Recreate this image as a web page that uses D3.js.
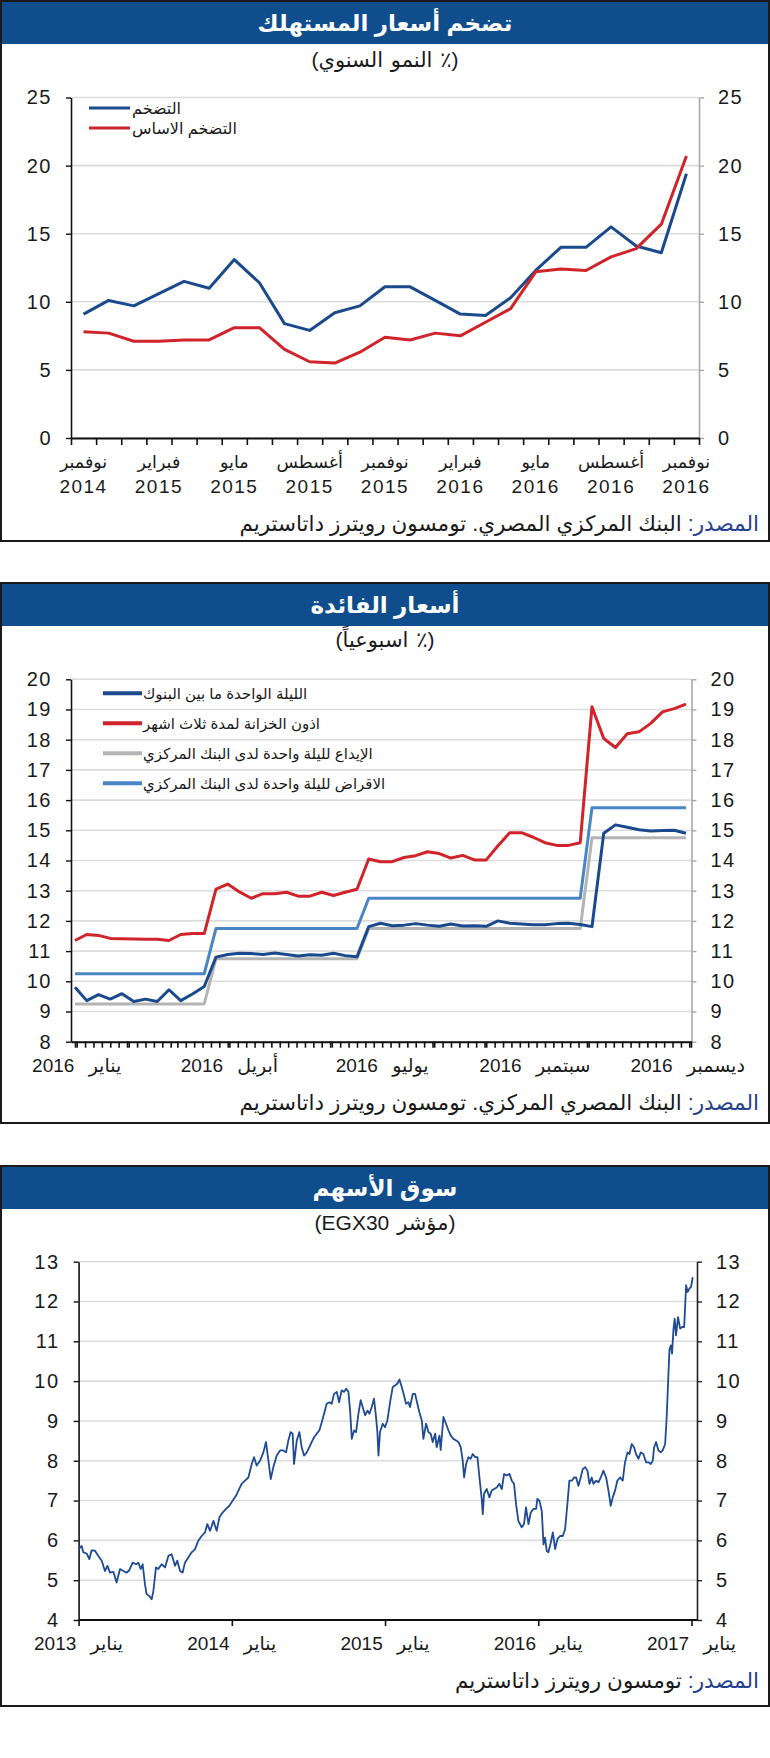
<!DOCTYPE html>
<html>
<head>
<meta charset="utf-8">
<script src="https://cdn.jsdelivr.net/npm/d3@7"></script>
<style>
  body { margin: 0; background: #fff; }
  svg text { font-family: "Liberation Sans", "DejaVu Sans", Arial, sans-serif; fill: #1a1a1a; }
</style>
</head>
<body>
<svg id="chart" width="770" height="1758"></svg>
<script>
// ---- chart 1: consumer inflation (monthly, % y/y)
const months1 = ["2014-11","2014-12","2015-01","2015-02","2015-03","2015-04","2015-05","2015-06",
  "2015-07","2015-08","2015-09","2015-10","2015-11","2015-12","2016-01","2016-02","2016-03",
  "2016-04","2016-05","2016-06","2016-07","2016-08","2016-09","2016-10","2016-11"];
const inflation = [9.1,10.1,9.7,10.6,11.5,11.0,13.1,11.4,8.4,7.9,9.2,9.7,11.1,11.1,10.1,9.1,9.0,10.3,12.3,14.0,14.0,15.5,14.1,13.6,19.4];
const coreInflation = [7.8,7.7,7.1,7.1,7.2,7.2,8.1,8.1,6.5,5.6,5.5,6.3,7.4,7.2,7.7,7.5,8.5,9.5,12.2,12.4,12.3,13.3,13.9,15.7,20.7];
const labelMonths1 = ["نوفمبر","فبراير","مايو","أغسطس","نوفمبر","فبراير","مايو","أغسطس","نوفمبر"];
const labelYears1 = ["2014","2015","2015","2015","2015","2016","2016","2016","2016"];
const yTicks1 = [0,5,10,15,20,25];

// ---- chart 2: interest rates (weekly, %)
const firstWeek = "2015-12-31";
const interbank = [9.80,9.36,9.56,9.41,9.59,9.33,9.41,9.33,9.72,9.36,9.58,9.83,
  10.80,10.89,10.93,10.92,10.89,10.94,10.89,10.84,10.88,10.86,10.93,10.85,10.81,
  11.81,11.92,11.84,11.86,11.91,11.86,11.82,11.90,11.83,11.84,11.82,12.00,11.92,11.90,11.87,11.87,11.91,11.92,11.88,11.81,
  14.90,15.18,15.10,15.02,14.98,14.99,15.00,14.90];
const tbill3m = [11.35,11.55,11.52,11.42,11.41,11.40,11.39,11.39,11.35,11.55,11.58,11.58,
  13.05,13.22,12.96,12.75,12.90,12.90,12.95,12.82,12.82,12.95,12.84,12.95,13.05,
  14.05,13.96,13.96,14.10,14.16,14.29,14.23,14.08,14.17,14.02,14.02,14.49,14.92,14.92,14.77,14.59,14.50,14.50,14.59,
  19.09,18.04,17.74,18.20,18.26,18.54,18.92,19.03,19.18];
const depositRate = [9.25,9.25,9.25,9.25,9.25,9.25,9.25,9.25,9.25,9.25,9.25,9.25,
  10.75,10.75,10.75,10.75,10.75,10.75,10.75,10.75,10.75,10.75,10.75,10.75,10.75,
  11.75,11.75,11.75,11.75,11.75,11.75,11.75,11.75,11.75,11.75,11.75,11.75,11.75,11.75,11.75,11.75,11.75,11.75,11.75,
  14.75,14.75,14.75,14.75,14.75,14.75,14.75,14.75,14.75];
const lendingRate = [10.25,10.25,10.25,10.25,10.25,10.25,10.25,10.25,10.25,10.25,10.25,10.25,
  11.75,11.75,11.75,11.75,11.75,11.75,11.75,11.75,11.75,11.75,11.75,11.75,11.75,
  12.75,12.75,12.75,12.75,12.75,12.75,12.75,12.75,12.75,12.75,12.75,12.75,12.75,12.75,12.75,12.75,12.75,12.75,12.75,
  15.75,15.75,15.75,15.75,15.75,15.75,15.75,15.75,15.75];
const rateLabelDates = ["2016-01-01","2016-04-01","2016-07-01","2016-09-30","2016-12-30"];
const rateLabels = ["يناير 2016","أبريل 2016","يوليو 2016","سبتمبر 2016","ديسمبر 2016"];
const rateNames = ["الليلة الواحدة ما بين البنوك","اذون الخزانة لمدة ثلاث اشهر",
  "الإيداع لليلة واحدة لدى البنك المركزي","الاقراض لليلة واحدة لدى البنك المركزي"];

// ---- chart 3: EGX30 index (thousands), time in decimal years
const egxTime = [2013.000,2013.020,2013.031,2013.053,2013.070,2013.085,2013.107,2013.129,2013.151,2013.172,
  2013.188,2013.205,2013.227,2013.248,2013.270,2013.292,2013.314,2013.331,2013.353,2013.375,
  2013.390,2013.405,2013.418,2013.433,2013.444,2013.462,2013.477,2013.488,2013.505,2013.520,
  2013.542,2013.564,2013.586,2013.607,2013.629,2013.644,2013.662,2013.679,2013.694,2013.716,
  2013.738,2013.760,2013.781,2013.803,2013.825,2013.840,2013.858,2013.880,2013.901,2013.919,
  2013.940,2013.962,2013.984,2014.006,2014.027,2014.043,2014.064,2014.086,2014.108,2014.130,
  2014.145,2014.162,2014.184,2014.206,2014.223,2014.239,2014.254,2014.271,2014.293,2014.315,
  2014.336,2014.354,2014.369,2014.384,2014.397,2014.406,2014.424,2014.441,
  2014.456,2014.471,2014.489,2014.506,2014.521,2014.537,2014.554,2014.571,2014.587,2014.602,
  2014.619,2014.637,2014.652,2014.667,2014.685,2014.700,2014.717,2014.733,2014.746,2014.761,
  2014.772,2014.783,2014.798,2014.811,2014.826,2014.841,2014.854,2014.870,2014.885,2014.898,
  2014.913,2014.928,2014.941,2014.950,2014.957,2014.967,2014.985,2015.000,2015.015,2015.033,
  2015.050,2015.065,2015.081,2015.094,2015.109,2015.124,2015.137,2015.152,2015.163,2015.181,
  2015.196,2015.211,2015.224,2015.240,2015.250,2015.268,2015.283,2015.298,2015.311,2015.327,
  2015.337,2015.355,2015.363,2015.381,2015.398,2015.414,2015.429,2015.446,2015.464,2015.479,
  2015.494,2015.507,2015.516,2015.529,2015.544,2015.559,2015.572,2015.588,2015.603,2015.616,
  2015.631,2015.638,2015.646,2015.664,2015.681,2015.696,2015.712,2015.729,2015.746,2015.762,
  2015.777,2015.794,2015.812,2015.827,2015.842,2015.855,2015.870,2015.881,
  2015.892,2015.907,2015.920,2015.936,2015.951,2015.968,2015.986,2015.994,2016.007,2016.023,
  2016.034,2016.044,2016.055,2016.066,2016.082,2016.095,2016.110,2016.125,2016.142,2016.160,
  2016.175,2016.190,2016.203,2016.219,2016.234,2016.247,2016.262,2016.277,2016.290,2016.306,
  2016.321,2016.334,2016.349,2016.360,2016.378,2016.393,2016.408,2016.425,2016.443,2016.458,
  2016.473,2016.486,2016.501,2016.516,2016.534,2016.551,2016.566,2016.582,2016.595,2016.610,
  2016.625,2016.638,2016.654,2016.669,2016.686,2016.704,2016.719,2016.734,2016.747,2016.756,
  2016.769,2016.784,2016.799,2016.812,2016.828,2016.838,2016.847,2016.856,2016.865,2016.873,
  2016.882,2016.890,2016.899,2016.912,2016.926,2016.939,2016.952,2016.965,2016.974,2016.987,
  2016.997,2017.008];
const egxIndex = [5.78,5.86,5.70,5.67,5.53,5.75,5.74,5.61,5.49,5.23,
  5.36,5.19,5.21,4.94,5.28,5.23,5.19,5.25,5.44,5.40,
  5.44,5.28,5.40,4.90,4.65,4.60,4.52,4.73,5.32,5.28,
  5.40,5.32,5.61,5.65,5.36,5.49,5.23,5.19,5.44,5.57,
  5.70,5.78,5.99,6.11,6.20,6.41,6.24,6.49,6.24,6.58,
  6.70,6.79,6.87,7.00,7.12,7.25,7.42,7.50,7.58,7.92,
  8.09,7.88,8.00,8.21,8.47,8.00,7.54,7.84,8.13,8.26,
  8.26,8.21,8.51,8.72,8.68,7.92,8.51,8.72,
  8.34,8.13,8.21,8.34,8.47,8.59,8.68,8.76,8.97,9.18,
  9.43,9.47,9.43,9.68,9.73,9.47,9.77,9.73,9.81,9.73,
  9.26,8.55,8.76,8.72,9.18,9.52,9.35,9.14,9.26,9.18,
  9.35,9.56,9.10,8.72,8.13,8.72,8.93,8.84,9.01,9.47,
  9.85,9.89,9.94,10.04,9.85,9.64,9.43,9.47,9.35,9.68,
  9.68,9.43,9.22,9.01,8.55,8.93,8.72,8.68,8.47,8.68,
  8.34,8.63,8.27,9.10,8.93,8.76,8.63,8.55,8.51,8.47,
  8.34,8.00,7.58,7.92,8.09,8.05,8.17,8.09,8.09,7.58,
  7.04,6.66,7.17,7.29,7.08,7.25,7.29,7.33,7.42,7.29,
  7.67,7.63,7.67,7.50,7.42,6.91,6.49,6.41,
  6.33,6.41,6.83,6.41,6.70,6.79,6.79,7.04,7.00,6.74,
  5.90,6.07,5.74,5.70,5.95,6.20,5.78,6.03,6.11,6.11,
  6.28,6.91,7.50,7.50,7.58,7.58,7.37,7.58,7.79,7.84,
  7.75,7.42,7.58,7.42,7.50,7.46,7.58,7.75,7.58,7.25,
  6.87,7.08,7.25,7.50,7.58,7.50,7.96,8.21,8.17,8.42,
  8.34,8.17,8.05,8.21,8.17,7.96,7.96,7.92,8.00,8.34,
  8.47,8.26,8.21,8.26,8.42,9.10,9.94,10.78,10.90,10.69,
  11.28,11.57,11.15,11.61,11.32,11.36,11.36,12.41,12.24,12.33,
  12.37,12.61];
const egxYears = [2013,2014,2015,2016,2017];
const yTicks3 = [4,5,6,7,8,9,10,11,12,13];

const navy = "#1b4a8c", red = "#d0232a", gray = "#b4b4b4", lightBlue = "#4a86c6",
      gridColor = "#dcdcdc", barColor = "#104d8c", srcBlue = "#23418f";

const svg = d3.select("#chart");

function panel(top, h, title, subtitle, subY) {
  const g = svg.append("g");
  g.append("rect").attr("x", 2).attr("y", top).attr("width", 766).attr("height", 43)
    .attr("fill", barColor);
  g.append("rect").attr("x", 1).attr("y", top).attr("width", 768).attr("height", h)
    .attr("fill", "none").attr("stroke", "#1a1a1a").attr("stroke-width", 2);
  g.append("text").attr("x", 385).attr("y", top + 22).attr("dy", "0.35em")
    .attr("text-anchor", "middle").attr("direction", "rtl")
    .attr("font-size", 23).attr("font-weight", "bold").style("fill", "#fff").text(title);
  g.append("text").attr("x", 385).attr("y", subY).attr("dy", "0.35em")
    .attr("text-anchor", "middle").attr("direction", "rtl")
    .attr("font-size", 21).attr("word-spacing", 2).text(subtitle);
  return g;
}

function source(g, y, rest) {
  const t = g.append("text").attr("x", 759).attr("y", y).attr("dy", "0.35em")
    .attr("direction", "rtl").attr("text-anchor", "start").attr("font-size", 21.5);
  t.append("tspan").style("fill", srcBlue).text("المصدر: ");
  t.append("tspan").text(rest);
}

function yAxes(g, y, ticks, x0, x1, rightColor) {
  g.append("g").selectAll("line").data(ticks).join("line")
    .attr("x1", x0).attr("x2", x1).attr("y1", d => y(d)).attr("y2", d => y(d))
    .attr("stroke", gridColor).attr("stroke-width", 1.6);
  const left = g.append("g").attr("transform", `translate(${x0},0)`)
    .call(d3.axisLeft(y).tickValues(ticks).tickSize(5).tickPadding(14).tickSizeOuter(0));
  const right = g.append("g").attr("transform", `translate(${x1},0)`)
    .call(d3.axisRight(y).tickValues(ticks).tickSize(5).tickPadding(14).tickSizeOuter(0));
  left.select(".domain").attr("stroke", "#111").attr("stroke-width", 1.6);
  left.selectAll(".tick line").attr("stroke", "#111").attr("stroke-width", 1.4);
  right.select(".domain").attr("stroke", rightColor).attr("stroke-width", 1.6);
  right.selectAll(".tick line").attr("stroke", rightColor).attr("stroke-width", 1.4);
  g.selectAll(".tick text").attr("font-size", 20).attr("letter-spacing", 1.5)
    .attr("font-family", null).style("fill", "#1a1a1a");
}

// ================= chart 1 =================
const g1 = panel(1, 540, "تضخم أسعار المستهلك", "(٪ النمو السنوي)", 60);
const x1 = d3.scaleLinear().domain([-0.5, months1.length - 0.5]).range([71, 699]);
const y1 = d3.scaleLinear().domain([0, 25]).range([438, 97.5]);
yAxes(g1, y1, yTicks1, 71, 699, "#a8a8a8");

const xb1 = g1.append("g").attr("transform", "translate(0,438)")
  .call(d3.axisBottom(x1).tickValues(d3.range(-0.5, months1.length, 1)).tickSize(7).tickFormat("").tickSizeOuter(0));
xb1.select(".domain").attr("stroke", "#111").attr("stroke-width", 2);
xb1.selectAll(".tick line").attr("stroke", "#111").attr("stroke-width", 1.6);

const lab1 = g1.append("g").selectAll("g").data(labelMonths1).join("g")
  .attr("transform", (d, i) => `translate(${x1(i * 3)},0)`);
lab1.append("text").attr("y", 462).attr("dy", "0.35em").attr("text-anchor", "middle")
  .attr("font-size", 17.5).text(d => d);
lab1.append("text").attr("y", 486).attr("dy", "0.35em").attr("text-anchor", "middle")
  .attr("font-size", 19).attr("letter-spacing", 1.5).text((d, i) => labelYears1[i]);

const line1 = d3.line().x((d, i) => x1(i)).y(d => y1(d));
[[inflation, navy], [coreInflation, red]].forEach(([s, c]) => {
  g1.append("path").datum(s).attr("d", line1).attr("fill", "none")
    .attr("stroke", c).attr("stroke-width", 3).attr("stroke-linejoin", "round");
});

const leg1 = [["التضخم", navy], ["التضخم الاساس", red]];
leg1.forEach(([name, c], i) => {
  g1.append("line").attr("x1", 89).attr("x2", 130).attr("y1", 108 + i * 20).attr("y2", 108 + i * 20)
    .attr("stroke", c).attr("stroke-width", 3);
  g1.append("text").attr("x", 132).attr("y", 108 + i * 20).attr("dy", "0.35em")
    .attr("font-size", 16).text(name);
});
source(g1, 523, "البنك المركزي المصري. تومسون رويترز داتاستريم");

// ================= chart 2 =================
const g2 = panel(583, 540, "أسعار الفائدة", "(٪ اسبوعياً)", 640);
const parse = d3.timeParse("%Y-%m-%d");
const weeks = interbank.map((d, i) => d3.timeDay.offset(parse(firstWeek), 7 * i));
const x2 = d3.scaleTime()
  .domain([new Date(2015, 11, 28, 15), new Date(2017, 0, 1, 7)]).range([71, 691.5]);
const y2 = d3.scaleLinear().domain([8, 20]).range([1041.7, 679.3]);
yAxes(g2, y2, d3.range(8, 21), 71, 691.5, "#a8a8a8");

// minor date ticks every five days along the bottom axis
const dayTicks = d3.timeDay.every(5).range(x2.domain()[0], x2.domain()[1]);
const xb2 = g2.append("g").attr("transform", "translate(0,1041.7)")
  .call(d3.axisBottom(x2).tickValues(dayTicks).tickSize(6).tickFormat("").tickSizeOuter(0));
xb2.select(".domain").attr("stroke", "#111").attr("stroke-width", 2);
xb2.selectAll(".tick line").attr("stroke", "#111").attr("stroke-width", 1.6);

g2.append("g").selectAll("text").data(rateLabels).join("text")
  .attr("x", (d, i) => x2(parse(rateLabelDates[i]))).attr("y", 1065).attr("dy", "0.35em")
  .attr("text-anchor", "middle").attr("direction", "rtl").attr("font-size", 19)
  .attr("letter-spacing", 0.8).attr("word-spacing", 9).text(d => d);

const line2 = d3.line().x((d, i) => x2(weeks[i])).y(d => y2(d));
const series2 = [[depositRate, gray], [lendingRate, lightBlue], [tbill3m, red], [interbank, navy]];
series2.forEach(([s, c]) => {
  g2.append("path").datum(s).attr("d", line2).attr("fill", "none")
    .attr("stroke", c).attr("stroke-width", 3).attr("stroke-linejoin", "round");
});

const legColors2 = [navy, red, gray, lightBlue];
rateNames.forEach((name, i) => {
  const yy = 693.3 + i * 30;
  g2.append("line").attr("x1", 103).attr("x2", 142).attr("y1", yy).attr("y2", yy)
    .attr("stroke", legColors2[i]).attr("stroke-width", 4);
  g2.append("text").attr("x", 143).attr("y", yy).attr("dy", "0.35em")
    .attr("font-size", 15).text(name);
});
source(g2, 1102, "البنك المصري المركزي. تومسون رويترز داتاستريم");

// ================= chart 3 =================
const g3 = panel(1166, 540, "سوق الأسهم", "(مؤشر EGX30)", 1223);
const x3 = d3.scaleLinear().domain([2013, 2017]).range([78.6, 691.5]);
const y3 = d3.scaleLinear().domain([4, 13]).range([1620, 1261.7]);
yAxes(g3, y3, yTicks3, 78.6, 697, "#222");

const xb3 = g3.append("g").attr("transform", "translate(0,1620)")
  .call(d3.axisBottom(x3).tickValues(egxYears).tickSize(6).tickFormat("").tickSizeOuter(0));
g3.append("line").attr("x1", 78.6).attr("x2", 697).attr("y1", 1620).attr("y2", 1620)
  .attr("stroke", "#111").attr("stroke-width", 2);
xb3.select(".domain").remove();
xb3.selectAll(".tick line").attr("stroke", "#111").attr("stroke-width", 1.6);

g3.append("g").selectAll("text").data(egxYears).join("text")
  .attr("x", d => x3(d)).attr("y", 1643).attr("dy", "0.35em")
  .attr("text-anchor", "middle").attr("direction", "rtl").attr("font-size", 19)
  .attr("letter-spacing", 0.8).attr("word-spacing", 9).text(d => "يناير " + d);

const line3 = d3.line().x(d => x3(d[0])).y(d => y3(d[1]));
g3.append("path").datum(d3.zip(egxTime, egxIndex)).attr("d", line3).attr("fill", "none")
  .attr("stroke", "#1f4a94").attr("stroke-width", 1.8).attr("stroke-linejoin", "round");
source(g3, 1680, "تومسون رويترز داتاستريم");
</script>
</body>
</html>
